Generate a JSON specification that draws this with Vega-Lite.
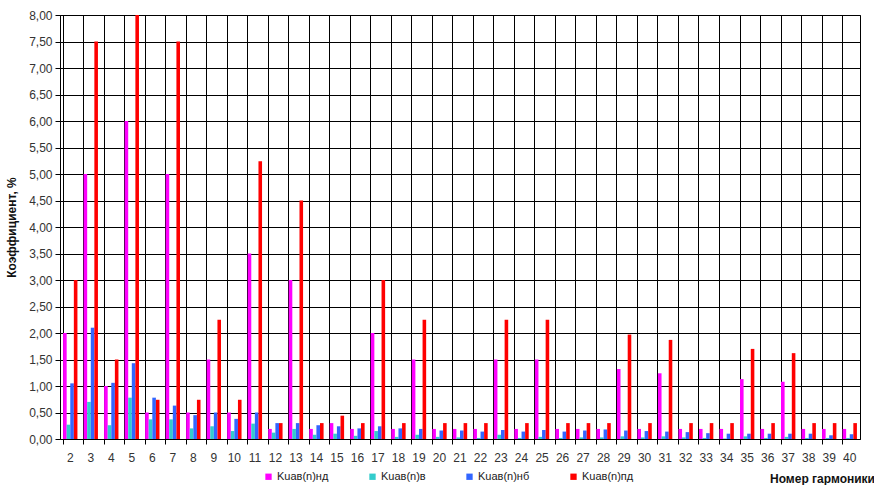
{
  "$schema": "https://vega.github.io/schema/vega-lite/v6.json",
  "width": 800,
  "height": 424,
  "autosize": {"type": "none"},
  "padding": {"left": 60, "top": 15, "right": 14, "bottom": 46},
  "background": "white",
  "config": {
    "font": "Liberation Sans",
    "view": {"stroke": "black", "strokeWidth": 1},
    "axis": {"gridColor": "black", "gridOpacity": 1, "gridWidth": 1, "domainColor": "black", "tickColor": "black"},
    "axisX": {"gridColor": "black", "gridOpacity": 1},
    "axisY": {"gridColor": "black", "gridOpacity": 1}
  },
  "data": {"values": [
    {"h":2,"s":"Kuав(n)нд","v":2.0},{"h":2,"s":"Kuав(n)в","v":0.27},{"h":2,"s":"Kuав(n)нб","v":1.05},{"h":2,"s":"Kuав(n)пд","v":3.0},
    {"h":3,"s":"Kuав(n)нд","v":5.0},{"h":3,"s":"Kuав(n)в","v":0.7},{"h":3,"s":"Kuав(n)нб","v":2.1},{"h":3,"s":"Kuав(n)пд","v":7.5},
    {"h":4,"s":"Kuав(n)нд","v":1.0},{"h":4,"s":"Kuав(n)в","v":0.26},{"h":4,"s":"Kuав(n)нб","v":1.06},{"h":4,"s":"Kuав(n)пд","v":1.5},
    {"h":5,"s":"Kuав(n)нд","v":6.0},{"h":5,"s":"Kuав(n)в","v":0.78},{"h":5,"s":"Kuав(n)нб","v":1.43},{"h":5,"s":"Kuав(n)пд","v":8.0},
    {"h":6,"s":"Kuав(n)нд","v":0.5},{"h":6,"s":"Kuав(n)в","v":0.37},{"h":6,"s":"Kuав(n)нб","v":0.78},{"h":6,"s":"Kuав(n)пд","v":0.74},
    {"h":7,"s":"Kuав(n)нд","v":5.0},{"h":7,"s":"Kuав(n)в","v":0.37},{"h":7,"s":"Kuав(n)нб","v":0.63},{"h":7,"s":"Kuав(n)пд","v":7.5},
    {"h":8,"s":"Kuав(n)нд","v":0.5},{"h":8,"s":"Kuав(n)в","v":0.2},{"h":8,"s":"Kuав(n)нб","v":0.45},{"h":8,"s":"Kuав(n)пд","v":0.74},
    {"h":9,"s":"Kuав(n)нд","v":1.5},{"h":9,"s":"Kuав(n)в","v":0.24},{"h":9,"s":"Kuав(n)нб","v":0.5},{"h":9,"s":"Kuав(n)пд","v":2.25},
    {"h":10,"s":"Kuав(n)нд","v":0.5},{"h":10,"s":"Kuав(n)в","v":0.15},{"h":10,"s":"Kuав(n)нб","v":0.38},{"h":10,"s":"Kuав(n)пд","v":0.74},
    {"h":11,"s":"Kuав(n)нд","v":3.5},{"h":11,"s":"Kuав(n)в","v":0.29},{"h":11,"s":"Kuав(n)нб","v":0.5},{"h":11,"s":"Kuав(n)пд","v":5.24},
    {"h":12,"s":"Kuав(n)нд","v":0.19},{"h":12,"s":"Kuав(n)в","v":0.12},{"h":12,"s":"Kuав(n)нб","v":0.3},{"h":12,"s":"Kuав(n)пд","v":0.3},
    {"h":13,"s":"Kuав(n)нд","v":3.0},{"h":13,"s":"Kuав(n)в","v":0.19},{"h":13,"s":"Kuав(n)нб","v":0.3},{"h":13,"s":"Kuав(n)пд","v":4.5},
    {"h":14,"s":"Kuав(n)нд","v":0.19},{"h":14,"s":"Kuав(n)в","v":0.08},{"h":14,"s":"Kuав(n)нб","v":0.26},{"h":14,"s":"Kuав(n)пд","v":0.3},
    {"h":15,"s":"Kuав(n)нд","v":0.3},{"h":15,"s":"Kuав(n)в","v":0.1},{"h":15,"s":"Kuав(n)нб","v":0.24},{"h":15,"s":"Kuав(n)пд","v":0.44},
    {"h":16,"s":"Kuав(n)нд","v":0.19},{"h":16,"s":"Kuав(n)в","v":0.06},{"h":16,"s":"Kuав(n)нб","v":0.2},{"h":16,"s":"Kuав(n)пд","v":0.3},
    {"h":17,"s":"Kuав(n)нд","v":2.0},{"h":17,"s":"Kuав(n)в","v":0.15},{"h":17,"s":"Kuав(n)нб","v":0.24},{"h":17,"s":"Kuав(n)пд","v":3.0},
    {"h":18,"s":"Kuав(n)нд","v":0.19},{"h":18,"s":"Kuав(n)в","v":0.04},{"h":18,"s":"Kuав(n)нб","v":0.2},{"h":18,"s":"Kuав(n)пд","v":0.3},
    {"h":19,"s":"Kuав(n)нд","v":1.5},{"h":19,"s":"Kuав(n)в","v":0.08},{"h":19,"s":"Kuав(n)нб","v":0.19},{"h":19,"s":"Kuав(n)пд","v":2.25},
    {"h":20,"s":"Kuав(n)нд","v":0.19},{"h":20,"s":"Kuав(n)в","v":0.04},{"h":20,"s":"Kuав(n)нб","v":0.16},{"h":20,"s":"Kuав(n)пд","v":0.3},
    {"h":21,"s":"Kuав(n)нд","v":0.19},{"h":21,"s":"Kuав(n)в","v":0.03},{"h":21,"s":"Kuав(n)нб","v":0.16},{"h":21,"s":"Kuав(n)пд","v":0.3},
    {"h":22,"s":"Kuав(n)нд","v":0.19},{"h":22,"s":"Kuав(n)в","v":0.02},{"h":22,"s":"Kuав(n)нб","v":0.14},{"h":22,"s":"Kuав(n)пд","v":0.3},
    {"h":23,"s":"Kuав(n)нд","v":1.5},{"h":23,"s":"Kuав(n)в","v":0.08},{"h":23,"s":"Kuав(n)нб","v":0.17},{"h":23,"s":"Kuав(n)пд","v":2.25},
    {"h":24,"s":"Kuав(n)нд","v":0.19},{"h":24,"s":"Kuав(n)в","v":0.02},{"h":24,"s":"Kuав(n)нб","v":0.14},{"h":24,"s":"Kuав(n)пд","v":0.3},
    {"h":25,"s":"Kuав(n)нд","v":1.5},{"h":25,"s":"Kuав(n)в","v":0.04},{"h":25,"s":"Kuав(n)нб","v":0.17},{"h":25,"s":"Kuав(n)пд","v":2.25},
    {"h":26,"s":"Kuав(n)нд","v":0.19},{"h":26,"s":"Kuав(n)в","v":0.02},{"h":26,"s":"Kuав(n)нб","v":0.14},{"h":26,"s":"Kuав(n)пд","v":0.3},
    {"h":27,"s":"Kuав(n)нд","v":0.19},{"h":27,"s":"Kuав(n)в","v":0.03},{"h":27,"s":"Kuав(n)нб","v":0.16},{"h":27,"s":"Kuав(n)пд","v":0.3},
    {"h":28,"s":"Kuав(n)нд","v":0.19},{"h":28,"s":"Kuав(n)в","v":0.03},{"h":28,"s":"Kuав(n)нб","v":0.18},{"h":28,"s":"Kuав(n)пд","v":0.3},
    {"h":29,"s":"Kuав(n)нд","v":1.32},{"h":29,"s":"Kuав(n)в","v":0.05},{"h":29,"s":"Kuав(n)нб","v":0.16},{"h":29,"s":"Kuав(n)пд","v":1.97},
    {"h":30,"s":"Kuав(n)нд","v":0.19},{"h":30,"s":"Kuав(n)в","v":0.03},{"h":30,"s":"Kuав(n)нб","v":0.15},{"h":30,"s":"Kuав(n)пд","v":0.3},
    {"h":31,"s":"Kuав(n)нд","v":1.24},{"h":31,"s":"Kuав(n)в","v":0.05},{"h":31,"s":"Kuав(n)нб","v":0.14},{"h":31,"s":"Kuав(n)пд","v":1.87},
    {"h":32,"s":"Kuав(n)нд","v":0.19},{"h":32,"s":"Kuав(n)в","v":0.03},{"h":32,"s":"Kuав(n)нб","v":0.13},{"h":32,"s":"Kuав(n)пд","v":0.3},
    {"h":33,"s":"Kuав(n)нд","v":0.19},{"h":33,"s":"Kuав(n)в","v":0.02},{"h":33,"s":"Kuав(n)нб","v":0.11},{"h":33,"s":"Kuав(n)пд","v":0.3},
    {"h":34,"s":"Kuав(n)нд","v":0.19},{"h":34,"s":"Kuав(n)в","v":0.01},{"h":34,"s":"Kuав(n)нб","v":0.1},{"h":34,"s":"Kuав(n)пд","v":0.3},
    {"h":35,"s":"Kuав(n)нд","v":1.13},{"h":35,"s":"Kuав(n)в","v":0.05},{"h":35,"s":"Kuав(n)нб","v":0.1},{"h":35,"s":"Kuав(n)пд","v":1.7},
    {"h":36,"s":"Kuав(n)нд","v":0.19},{"h":36,"s":"Kuав(n)в","v":0.02},{"h":36,"s":"Kuав(n)нб","v":0.1},{"h":36,"s":"Kuав(n)пд","v":0.3},
    {"h":37,"s":"Kuав(n)нд","v":1.08},{"h":37,"s":"Kuав(n)в","v":0.04},{"h":37,"s":"Kuав(n)нб","v":0.1},{"h":37,"s":"Kuав(n)пд","v":1.62},
    {"h":38,"s":"Kuав(n)нд","v":0.19},{"h":38,"s":"Kuав(n)в","v":0.02},{"h":38,"s":"Kuав(n)нб","v":0.1},{"h":38,"s":"Kuав(n)пд","v":0.3},
    {"h":39,"s":"Kuав(n)нд","v":0.19},{"h":39,"s":"Kuав(n)в","v":0.02},{"h":39,"s":"Kuав(n)нб","v":0.07},{"h":39,"s":"Kuав(n)пд","v":0.3},
    {"h":40,"s":"Kuав(n)нд","v":0.19},{"h":40,"s":"Kuав(n)в","v":0.02},{"h":40,"s":"Kuав(n)нб","v":0.09},{"h":40,"s":"Kuав(n)пд","v":0.3}
  ]},
  "mark": {"type": "bar", "clip": true},
  "encoding": {
    "x": {
      "field": "h", "type": "ordinal", "sort": "ascending",
      "scale": {"paddingInner": 0.3, "paddingOuter": 0.15},
      "axis": {
        "bandPosition": 0,
        "grid": true, "gridColor": "black", "gridOpacity": 1, "gridWidth": 1,
        "domainColor": "black", "tickColor": "black", "tickSize": 5,
        "labelAngle": 0, "labelFontSize": 12, "labelColor": "#333", "labelPadding": 8,
        "title": "Номер гармоники", "titleFontSize": 12, "titleFontWeight": "bold", "titleColor": "#111",
        "titleAnchor": "start", "titleAlign": "center", "titleX": 762, "titleY": 39, "titleBaseline": "middle"
      }
    },
    "xOffset": {"field": "s", "type": "nominal", "sort": ["Kuав(n)нд", "Kuав(n)в", "Kuав(n)нб", "Kuав(n)пд"], "scale": {"paddingInner": 0, "paddingOuter": 0}},
    "y": {
      "field": "v", "type": "quantitative",
      "scale": {"domain": [0, 8], "nice": false},
      "axis": {
        "values": [0, 0.5, 1, 1.5, 2, 2.5, 3, 3.5, 4, 4.5, 5, 5.5, 6, 6.5, 7, 7.5, 8],
        "labelExpr": "replace(format(datum.value, '.2f'), '.', ',')",
        "grid": true, "gridColor": "black", "gridOpacity": 1, "gridWidth": 1,
        "domainColor": "black", "tickColor": "black", "tickSize": 5,
        "labelFontSize": 12, "labelColor": "#333", "labelPadding": 3,
        "title": "Коэффициент, %", "titleFontSize": 12, "titleFontWeight": "bold", "titleColor": "#111",
        "titlePadding": 10
      }
    },
    "color": {
      "field": "s", "type": "nominal",
      "sort": ["Kuав(n)нд", "Kuав(n)в", "Kuав(n)нб", "Kuав(n)пд"],
      "scale": {"domain": ["Kuав(n)нд", "Kuав(n)в", "Kuав(n)нб", "Kuав(n)пд"], "range": ["#FF00FF", "#33CCCC", "#3366FF", "#FF0000"]},
      "legend": {
        "title": null, "orient": "none", "direction": "horizontal", "columns": 4,
        "legendX": 203, "legendY": 456,
        "symbolType": "square", "symbolSize": 40, "symbolStrokeWidth": 0,
        "labelFontSize": 11, "labelColor": "#222", "columnPadding": 38, "labelOffset": 3
      }
    }
  }
}
